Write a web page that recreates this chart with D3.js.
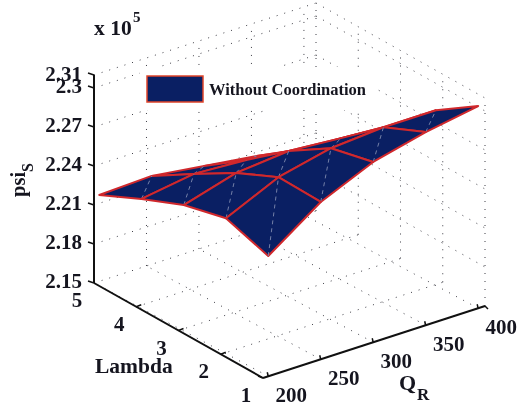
<!DOCTYPE html>
<html>
<head>
<meta charset="utf-8">
<script src="https://cdnjs.cloudflare.com/ajax/libs/d3/7.8.5/d3.min.js"></script>
<style>
  html, body { margin: 0; padding: 0; background: #fff; }
  svg { display: block; filter: blur(0.5px); }
  text { font-family: "Liberation Serif", serif; font-weight: bold; fill: #15151f; }
</style>
</head>
<body>
<svg id="chart" width="517" height="406"></svg>
<script>
var qValues = [200, 250, 300, 350, 400];
var lambdaValues = [1, 2, 3, 4, 5];
var zTicks = [2.15, 2.18, 2.21, 2.24, 2.27, 2.3, 2.31];
var zTickLabels = ["2.15", "2.18", "2.21", "2.24", "2.27", "2.3", "2.31"];

// one row per lambda, one column per Q
var psiLambda1 = [2.2425, 2.2710, 2.2887, 2.2986, 2.3055];
var psiLambda2 = [2.2533, 2.2718, 2.2810, 2.2840, 2.2840];
var psiLambda3 = [2.2452, 2.2568, 2.2606, 2.2574, 2.2544];
var psiLambda4 = [2.2316, 2.2378, 2.2354, 2.2299, 2.2277];
var psiLambda5 = [2.2164, 2.2180, 2.2125, 2.2071, 2.2002];
var psiRows = [psiLambda1, psiLambda2, psiLambda3, psiLambda4, psiLambda5];

var qMin = 195, qMax = 406.5;
var backShift = 5; // wall grid sits a bit left of the Q ticks in the original

var svg = d3.select("#chart");

// oblique projection of the matlab box
var qX = d3.scaleLinear().domain([qMin, qMax]).range([0, 222]);
var qY = d3.scaleLinear().domain([qMin, qMax]).range([0, -72]);
var lamX = d3.scaleLinear().domain([1, 5]).range([263, 94]);
var lamY = d3.scaleLinear().domain([1, 5]).range([378, 283]);
var zY = d3.scaleLinear().domain([2.15, 2.31]).range([0, -208]);

function px(q, l) { return qX(q) + lamX(l); }
function py(q, l, z) { return qY(q) + lamY(l) + zY(z); }

var line = d3.line()
  .x(function(d) { return px(d[0], d[1]); })
  .y(function(d) { return py(d[0], d[1], d[2]); });

function gridLine(a, b) {
  svg.append("path")
    .attr("d", line([a, b]))
    .attr("fill", "none")
    .attr("stroke", "#3c3c44")
    .attr("stroke-width", 1)
    .attr("stroke-dasharray", "1 7");
}

// grid on floor and the two back walls
var wallQ = qValues.map(function(q) { return q - backShift; });
qValues.forEach(function(q) {
  gridLine([q, 1, 2.15], [q - backShift, 5, 2.15]);
});
lambdaValues.slice(0, 4).forEach(function(l) {
  gridLine([qMin, l, 2.15], [qMax, l, 2.15]);
});
gridLine([qMin, 5, 2.15], [qMax, 5, 2.15]);
wallQ.concat([qMax]).forEach(function(q) {
  if (q > qMin) gridLine([q, 5, 2.15], [q, 5, 2.31]);
});
lambdaValues.slice(0, 4).forEach(function(l) {
  gridLine([qMax, l, 2.15], [qMax, l, 2.31]);
});
zTicks.slice(1).forEach(function(z) {
  gridLine([qMin, 5, z], [qMax, 5, z]);
  gridLine([qMax, 5, z], [qMax, 1, z]);
});

// surface, far quads first
for (var j = lambdaValues.length - 2; j >= 0; j--) {
  for (var i = qValues.length - 2; i >= 0; i--) {
    var a = [qValues[i], lambdaValues[j], psiRows[j][i]];
    var b = [qValues[i + 1], lambdaValues[j], psiRows[j][i + 1]];
    var c = [qValues[i + 1], lambdaValues[j + 1], psiRows[j + 1][i + 1]];
    var d = [qValues[i], lambdaValues[j + 1], psiRows[j + 1][i]];
    svg.append("path")
      .attr("d", line([a, b, c, d]) + "Z")
      .attr("fill", "#0a1f63")
      .attr("stroke", "#d0282c")
      .attr("stroke-width", 2)
      .attr("stroke-linejoin", "round");
    svg.append("path")
      .attr("d", line([a, c]))
      .attr("fill", "none")
      .attr("stroke", "#7480a8")
      .attr("stroke-width", 1)
      .attr("stroke-dasharray", "4 4");
  }
}

// legend
svg.append("rect")
  .attr("x", 140).attr("y", 67)
  .attr("width", 235).attr("height", 43)
  .attr("fill", "#fff");
svg.append("rect")
  .attr("x", 147).attr("y", 76)
  .attr("width", 56).attr("height", 26)
  .attr("fill", "#0a1f63")
  .attr("stroke", "#e0442a")
  .attr("stroke-width", 1.5);
svg.append("text")
  .attr("x", 209).attr("y", 95)
  .style("font-size", "16.5px")
  .text("Without Coordination");

// axes
var axisColor = "#111";
function axisLine(p1, p2, w) {
  svg.append("line")
    .attr("x1", p1[0]).attr("y1", p1[1])
    .attr("x2", p2[0]).attr("y2", p2[1])
    .attr("stroke", axisColor)
    .attr("stroke-width", w);
}

var corner = [px(qMin, 5), py(qMin, 5, 2.15)];
var front = [px(qMin, 1), py(qMin, 1, 2.15)];
var right = [px(qMax, 1), py(qMax, 1, 2.15)];
axisLine(corner, [corner[0], py(qMin, 5, 2.31)], 2);
axisLine(corner, front, 2);
axisLine(front, right, 2);

zTicks.forEach(function(z, k) {
  var y = py(qMin, 5, z);
  axisLine([corner[0], y], [corner[0] - 6, y - 2], 1.5);
  svg.append("text")
    .attr("x", 82)
    .attr("y", y + (z == 2.31 ? 6 : 5))
    .attr("text-anchor", "end")
    .style("font-size", "21px")
    .text(zTickLabels[k]);
});

qValues.forEach(function(q) {
  var x = px(q, 1), y = py(q, 1, 2.15);
  axisLine([x, y], [x - 1, y - 4], 1.5);
  svg.append("text")
    .attr("x", x + 23)
    .attr("y", y + 26)
    .attr("text-anchor", "middle")
    .style("font-size", "21px")
    .text(q);
});
axisLine(right, [right[0] + 3, right[1] + 3], 1.5);
axisLine(front, [front[0] - 5, front[1] - 2], 1.5);

lambdaValues.forEach(function(l) {
  var x = px(qMin, l), y = py(qMin, l, 2.15);
  if (l > 1 && l < 5) axisLine([x, y], [x + 5, y - 2], 1.5);
  svg.append("text")
    .attr("x", x - 17)
    .attr("y", y + 24)
    .attr("text-anchor", "middle")
    .style("font-size", "21px")
    .text(l);
});

// axis titles
svg.append("text")
  .attr("x", 95).attr("y", 373)
  .style("font-size", "21.5px")
  .text("Lambda");

svg.append("text")
  .attr("x", 399).attr("y", 390)
  .style("font-size", "22px")
  .text("Q");
svg.append("text")
  .attr("x", 417).attr("y", 400)
  .style("font-size", "17px")
  .text("R");

svg.append("text")
  .attr("transform", "translate(25,197) rotate(-90)")
  .style("font-size", "20.5px")
  .text("psi");
svg.append("text")
  .attr("transform", "translate(33,172) rotate(-90)")
  .style("font-size", "16px")
  .text("S");

svg.append("text")
  .attr("x", 94).attr("y", 35)
  .style("font-size", "21.5px")
  .text("x 10");
svg.append("text")
  .attr("x", 133).attr("y", 22)
  .style("font-size", "15px")
  .text("5");
</script>
</body>
</html>
